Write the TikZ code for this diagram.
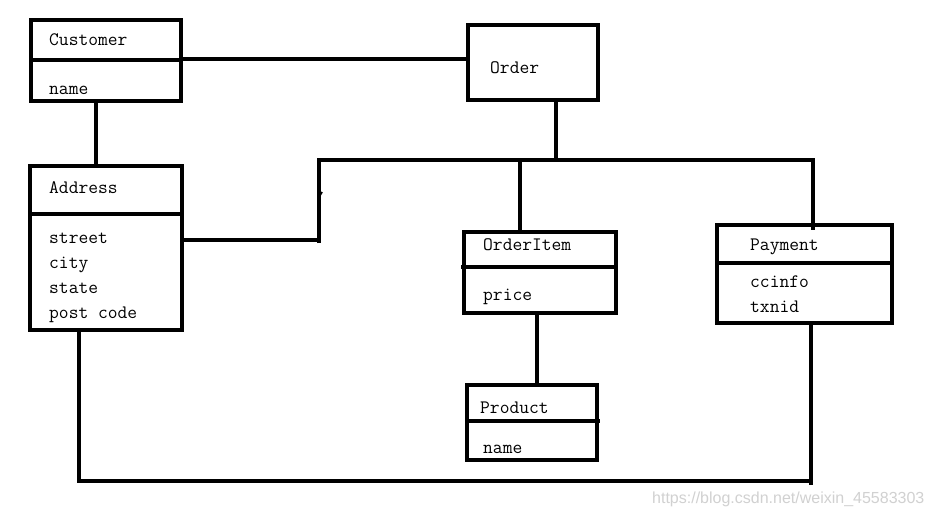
\documentclass[tikz,border=0pt]{standalone}
\usepackage{fontspec}
\newfontfamily\wmfont{Liberation Sans}
\begin{document}
\begin{tikzpicture}[x=1pt,y=-1pt,
  box/.style={draw,line width=3.2pt,inner sep=0pt,outer sep=0pt,anchor=north west},
  divider/.style={line width=3.2pt},
  conn/.style={line width=3.2pt},
  lbl/.style={anchor=base west,inner sep=0pt,font=\ttfamily\fontsize{19}{21}\selectfont},
  wm/.style={anchor=base west,inner sep=0pt,text=black!18,font=\wmfont\fontsize{16}{18}\selectfont}]
\useasboundingbox[fill=white] (0,0) rectangle (932,514);

% class boxes
\node[box,minimum width=150pt,minimum height=81pt] (cust) at (31,20) {};
\node[box,minimum width=152pt,minimum height=164pt] (addr) at (30,166) {};
\node[box,minimum width=130pt,minimum height=75pt] (ord) at (468,25) {};
\node[box,minimum width=152pt,minimum height=81pt] (item) at (464,232) {};
\node[box,minimum width=175pt,minimum height=98pt] (pay) at (717,225) {};
\node[box,minimum width=130pt,minimum height=75pt] (prod) at (467,385) {};

% compartment dividers
\draw[divider] (cust.west |- 0,60) -- (cust.east |- 0,60);
\draw[divider] (addr.west |- 0,214) -- (addr.east |- 0,214);
\draw[divider] (461,267) -- (item.east |- 0,267);
\draw[divider] (pay.west |- 0,263) -- (pay.east |- 0,263);
\draw[divider] (prod.west |- 0,421) -- (600,421);

% labels
\node[lbl] (tcust) at (49,45) {Customer};
\node[lbl] (tcustname) at (49,94) {name};
\node[lbl] (taddr) at (49,193) {Address};
\node[lbl] (tstreet) at (49,243) {street};
\node[lbl] (tcity) at (49,268) {city};
\node[lbl] (tstate) at (49,293) {state};
\node[lbl] (tpost) at (49,318) {post code};
\node[lbl] (tord) at (490,73) {Order};
\node[lbl] (titem) at (483,250) {OrderItem};
\node[lbl] (tprice) at (483,300) {price};
\node[lbl] (tpay) at (750,250) {Payment};
\node[lbl] (tcc) at (750,287) {ccinfo};
\node[lbl] (ttx) at (750,312) {txnid};
\node[lbl] (tprod) at (480,413) {Product};
\node[lbl] (tprodname) at (483,453) {name};

% junction points
\coordinate (j1) at (319,160);
\coordinate (j2) at (319,243);
\coordinate (jr) at (813,160);
\coordinate (b1) at (79,481);
\coordinate (b2) at (811,481);

% connectors
\draw[conn] (cust.east |- 0,59) -- (ord.west |- 0,59);
\draw[conn] (cust.south -| 96,0) -- (addr.north -| 96,0);
\draw[conn] (addr.east |- 0,240) -- (319,240);
\draw[conn] (j2) -- (j1) -- (jr) -- (813,230);
\draw[line width=1.8pt] (319,197) -- (322,192);
\draw[conn] (ord.south -| 556,0) -- (556,160);
\draw[conn] (520,160) -- (item.north -| 520,0);
\draw[conn] (item.south -| 537,0) -- (prod.north -| 537,0);
\draw[conn] (addr.south -| b1) -- (b1) -- (b2);
\draw[conn] (pay.south -| b2) -- (811,485);

% watermark
\node[wm] (wmark) at (652,503) {https://blog.csdn.net/weixin\_45583303};
\end{tikzpicture}
\end{document}
